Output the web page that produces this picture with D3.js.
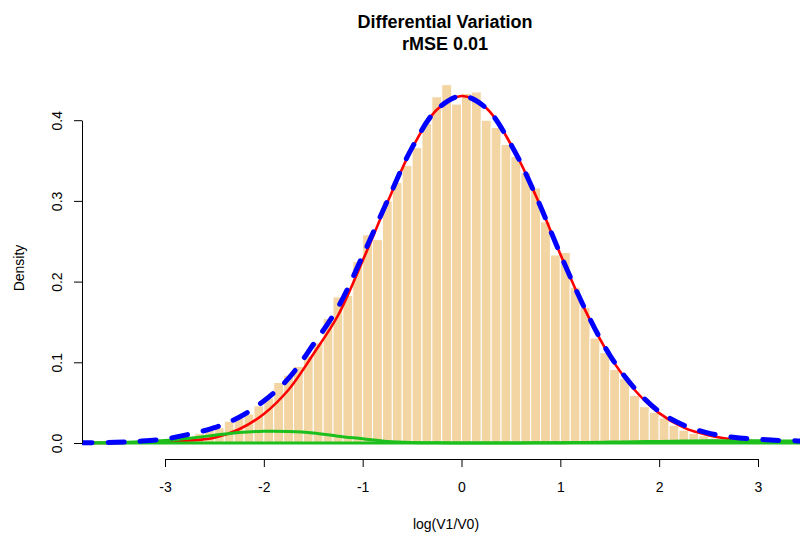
<!DOCTYPE html>
<html>
<head>
<meta charset="utf-8">
<script src="https://cdn.jsdelivr.net/npm/d3@7"></script>
<style>
  body { margin: 0; background: #fff; }
  svg { display: block; font-family: "Liberation Sans", Arial, sans-serif; }
</style>
</head>
<body>
<svg id="svg" width="800" height="537"></svg>
<script>
// histogram: left edge of each 0.1-wide bin and its density
const binWidth = 0.1;
const binStarts = [-3.0, -2.9, -2.8, -2.7, -2.6, -2.5, -2.4, -2.3, -2.2, -2.1,
  -2.0, -1.9, -1.8, -1.7, -1.6, -1.5, -1.4, -1.3, -1.2, -1.1,
  -1.0, -0.9, -0.8, -0.7, -0.6, -0.5, -0.4, -0.3, -0.2, -0.1,
  0.0, 0.1, 0.2, 0.3, 0.4, 0.5, 0.6, 0.7, 0.8, 0.9,
  1.0, 1.1, 1.2, 1.3, 1.4, 1.5, 1.6, 1.7, 1.8, 1.9,
  2.0, 2.1, 2.2, 2.3, 2.4, 2.5, 2.6, 2.7, 2.8, 2.9];
const binDensity = [0.004, 0.006, 0.008, 0.012, 0.016, 0.019, 0.027, 0.031, 0.036, 0.046,
  0.056, 0.075, 0.084, 0.095, 0.108, 0.124, 0.154, 0.181, 0.183, 0.225,
  0.258, 0.252, 0.300, 0.323, 0.344, 0.366, 0.396, 0.429, 0.444, 0.420,
  0.433, 0.435, 0.400, 0.391, 0.370, 0.355, 0.335, 0.316, 0.274, 0.233,
  0.236, 0.193, 0.168, 0.130, 0.112, 0.091, 0.080, 0.059, 0.045, 0.038,
  0.031, 0.022, 0.016, 0.012, 0.009, 0.006, 0.004, 0.003, 0.002, 0.001];

// fitted curves
const curveX = [-3.9, -3.5, -3.25, -3.0, -2.75, -2.5, -2.25, -2.0, -1.75, -1.5,
  -1.25, -1.0, -0.75, -0.5, -0.25, 0.0, 0.25, 0.5, 0.75, 1.0,
  1.25, 1.5, 1.75, 2.0, 2.25, 2.5, 2.75, 3.0, 3.25, 3.6];
const redMain = [0, 0.0001, 0.0004, 0.0011, 0.003, 0.0065, 0.017, 0.036, 0.066, 0.110,
  0.158, 0.226, 0.298, 0.365, 0.413, 0.430, 0.415, 0.370, 0.307, 0.234,
  0.165, 0.108, 0.066, 0.037, 0.019, 0.0095, 0.0043, 0.0018, 0.0007, 0.0002];
const blueMix = [0.0002, 0.0008, 0.0022, 0.005, 0.011, 0.019, 0.032, 0.052, 0.080, 0.122,
  0.168, 0.232, 0.300, 0.366, 0.413, 0.430, 0.415, 0.370, 0.307, 0.234,
  0.166, 0.109, 0.068, 0.039, 0.022, 0.0123, 0.007, 0.0046, 0.003, 0.0024];
const greenLeft = [0.0002, 0.0006, 0.0015, 0.003, 0.006, 0.0095, 0.013, 0.0145, 0.0143, 0.0125,
  0.0085, 0.0052, 0.0018, 0.0005, 0.0002, 0.0001, 0, 0, 0, 0,
  0, 0, 0, 0, 0, 0, 0, 0, 0, 0];
const greenRight = [0, 0, 0, 0, 0, 0, 0, 0, 0, 0,
  0, 0, 0, 0, 0, 0, 0.0001, 0.0001, 0.0002, 0.0004,
  0.0007, 0.0011, 0.0015, 0.002, 0.0024, 0.0028, 0.0029, 0.0028, 0.0026, 0.0022];

const xTicks = [-3, -2, -1, 0, 1, 2, 3];
const yTicks = [0.0, 0.1, 0.2, 0.3, 0.4];

const svg = d3.select("#svg");

const x = d3.scaleLinear().domain([-3, 3]).range([165, 758]);
const y = d3.scaleLinear().domain([0, 0.4]).range([443, 120.2]);

// plot region, lines are clipped to it
svg.append("clipPath").attr("id", "plotclip")
  .append("rect").attr("x", 82).attr("y", 0).attr("width", 730).attr("height", 459);

// histogram bars
svg.append("g").selectAll("rect")
  .data(binStarts)
  .enter()
  .append("rect")
  .attr("x", d => x(d))
  .attr("y", (d, i) => y(binDensity[i]))
  .attr("width", d => x(d + binWidth) - x(d))
  .attr("height", (d, i) => y(0) - y(binDensity[i]))
  .attr("fill", "#F2D5A3")
  .attr("stroke", "#fff")
  .attr("stroke-width", 1);

const line = vals => d3.line()
  .x((d, i) => x(curveX[i]))
  .y(d => y(d))
  .curve(d3.curveCatmullRom.alpha(0.5))(vals);

const lines = svg.append("g").attr("clip-path", "url(#plotclip)");

lines.append("path").attr("d", line(redMain))
  .attr("fill", "none").attr("stroke", "#FF0000").attr("stroke-width", 2.6);

lines.append("path").attr("d", line(greenLeft))
  .attr("fill", "none").attr("stroke", "#1DBF1D").attr("stroke-width", 3);
lines.append("path").attr("d", line(greenRight))
  .attr("fill", "none").attr("stroke", "#1DBF1D").attr("stroke-width", 3);

lines.append("path").attr("d", line(blueMix))
  .attr("fill", "none").attr("stroke", "#0000FF").attr("stroke-width", 5)
  .attr("stroke-dasharray", "16,16").attr("stroke-linecap", "round");

// x axis
const xAxis = svg.append("g")
  .attr("transform", "translate(0,459)")
  .call(d3.axisBottom(x).tickValues(xTicks).tickSize(8).tickSizeOuter(0)
    .tickFormat(d => String(d)));
xAxis.selectAll("text").attr("y", 33).attr("dy", 0)
  .style("font-size", "14px").attr("fill", "#000");

// y axis
const yAxis = svg.append("g")
  .attr("transform", "translate(82,0)")
  .call(d3.axisLeft(y).tickValues(yTicks).tickSize(8).tickSizeOuter(0)
    .tickFormat(d => d.toFixed(1)));
yAxis.selectAll("text")
  .attr("transform", "rotate(-90)")
  .attr("x", 0).attr("y", -20).attr("dy", 0)
  .attr("text-anchor", "middle")
  .style("font-size", "14px").attr("fill", "#000");

svg.selectAll(".domain, .tick line").attr("stroke", "#000").attr("stroke-width", 1);

// titles
svg.append("text").attr("x", 445).attr("y", 28).attr("text-anchor", "middle")
  .style("font-size", "18px").style("font-weight", "bold").text("Differential Variation");
svg.append("text").attr("x", 445).attr("y", 50).attr("text-anchor", "middle")
  .style("font-size", "18px").style("font-weight", "bold").text("rMSE 0.01");

svg.append("text").attr("x", 446).attr("y", 529).attr("text-anchor", "middle")
  .style("font-size", "14px").text("log(V1/V0)");

svg.append("text").attr("transform", "translate(24,268) rotate(-90)")
  .attr("text-anchor", "middle").style("font-size", "14px").text("Density");
</script>
</body>
</html>
